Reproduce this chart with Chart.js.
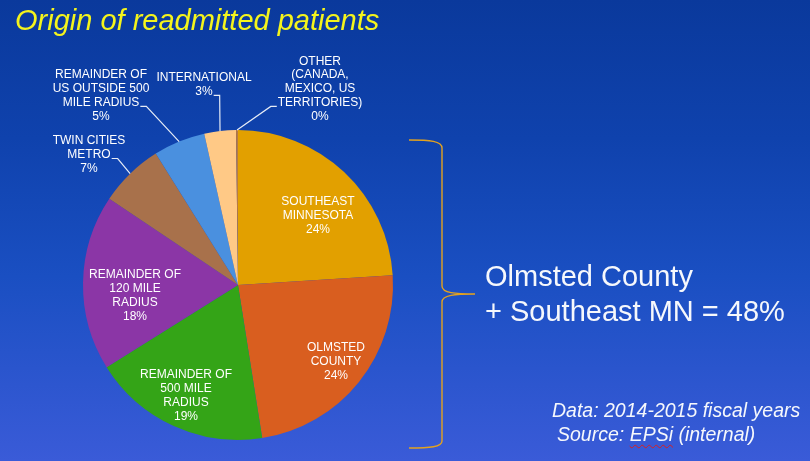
<!DOCTYPE html>
<html>
<head>
<meta charset="utf-8">
<script src="https://cdn.jsdelivr.net/npm/chart.js@4/dist/chart.umd.min.js"></script>
<style>
  html, body { margin: 0; padding: 0; }
  body {
    width: 810px; height: 461px; overflow: hidden; position: relative;
    background: linear-gradient(to bottom, #0a399c 0%, #0f42ad 30%, #1a4fc2 60%, #3a5bd8 100%);
    font-family: "Liberation Sans", Arial, sans-serif;
  }
  #wrap { position: absolute; left: 0; top: 0; width: 810px; height: 461px; }
  .txt { position: absolute; white-space: pre; }
  #title { left: 15px; top: 6px; font-size: 29px; line-height: 29px; font-style: italic; color: #f4f41c; }
  #summary { left: 485px; top: 259px; font-size: 29px; line-height: 35px; color: #f6f8fc; }
  .src { font-size: 19.5px; line-height: 24px; font-style: italic; color: #f6f8fc; }
  .squiggle { text-decoration: underline wavy #d82020; text-decoration-thickness: 1px; text-underline-offset: 3px; }
</style>
</head>
<body>
<div id="wrap"><canvas id="originChart" width="810" height="461"></canvas></div>
<div class="txt" id="title">Origin of readmitted patients</div>
<div class="txt" id="summary">Olmsted County
+ Southeast MN = 48%</div>
<div class="txt src" style="left:552px; top:398px;">Data: 2014-2015 fiscal years</div>
<div class="txt src" style="left:557px; top:422px;">Source: <span class="squiggle">EPSi</span> (internal)</div>
<script>
// Origin of readmitted patients, share of total (%)
const categories = [
  ["SOUTHEAST", "MINNESOTA"],
  ["OLMSTED", "COUNTY"],
  ["REMAINDER OF", "500 MILE", "RADIUS"],
  ["REMAINDER OF", "120 MILE", "RADIUS"],
  ["TWIN CITIES", "METRO"],
  ["REMAINDER OF", "US OUTSIDE 500", "MILE RADIUS"],
  ["INTERNATIONAL"],
  ["OTHER", "(CANADA,", "MEXICO, US", "TERRITORIES)"]
];
const shares = [24.0, 23.5, 18.6, 18.3, 6.7, 5.4, 3.3, 0.2];
const sliceColors = ["#e2a000", "#d95e1f", "#34a417", "#8b36a6", "#a8714b", "#4a90df", "#ffc986", "#b87a44"];

// label placement, offset of text centre from pie centre (px at r = 155)
const labelPlacement = [
  { dx: 80, dy: -69 },
  { dx: 98, dy: 77 },
  { dx: -52, dy: 111 },
  { dx: -103, dy: 11 },
  { dx: -149, dy: -130, leader: { line: 1, side: "right" } },
  { dx: -137, dy: -189, leader: { line: 2, side: "right" } },
  { dx: -34, dy: -200, leader: { line: 1, side: "right" } },
  { dx: 82, dy: -196, leader: { line: 3, side: "left" } }
];

const pieLabels = {
  id: "pieLabels",
  afterDatasetsDraw(chart) {
    const ctx = chart.ctx;
    const meta = chart.getDatasetMeta(0);
    ctx.save();
    ctx.font = "12px 'Liberation Sans', Arial, sans-serif";
    ctx.textAlign = "center";
    ctx.textBaseline = "middle";
    meta.data.forEach((arc, i) => {
      const p = arc.getProps(["x", "y", "startAngle", "endAngle", "outerRadius"], true);
      const s = p.outerRadius / 155;
      const lines = categories[i].concat([Math.round(shares[i]) + "%"]);
      const place = labelPlacement[i];
      const cx = p.x + place.dx * s;
      const cy = p.y + place.dy * s;
      const lh = 13.9;
      const top = cy - (lines.length - 1) * lh / 2;
      ctx.fillStyle = "#ffffff";
      lines.forEach((t, k) => ctx.fillText(t, cx, top + k * lh));

      if (place.leader) {
        const mid = (p.startAngle + p.endAngle) / 2;
        const ex = p.x + Math.cos(mid) * p.outerRadius;
        const ey = p.y + Math.sin(mid) * p.outerRadius;
        const ln = place.leader.line;
        const w = ctx.measureText(lines[ln]).width;
        const ly = top + ln * lh + 3.5;
        const sx = place.leader.side === "right" ? cx + w / 2 + 1 : cx - w / 2 - 1;
        const kx = place.leader.side === "right" ? sx + 6 : sx - 6;
        ctx.strokeStyle = "#e6ecf6";
        ctx.lineWidth = 1.2;
        ctx.beginPath();
        ctx.moveTo(sx, ly);
        ctx.lineTo(kx, ly);
        ctx.lineTo(ex, ey);
        ctx.stroke();
      }
    });

    // curly brace grouping the two largest slices
    ctx.strokeStyle = "#e3a21f";
    ctx.lineWidth = 1.4;
    ctx.beginPath();
    ctx.moveTo(409, 140);
    ctx.bezierCurveTo(430, 140, 442, 141, 442, 148);
    ctx.lineTo(442, 286);
    ctx.bezierCurveTo(442, 293, 455, 294, 475, 294);
    ctx.bezierCurveTo(455, 294, 442, 295, 442, 302);
    ctx.lineTo(442, 441);
    ctx.bezierCurveTo(442, 447, 430, 448, 409, 448);
    ctx.stroke();
    ctx.restore();
  }
};

new Chart(document.getElementById("originChart").getContext("2d"), {
  type: "pie",
  data: {
    labels: categories.map(c => c.join(" ")),
    datasets: [{
      data: shares,
      backgroundColor: sliceColors,
      borderWidth: 0
    }]
  },
  options: {
    responsive: false,
    animation: false,
    layout: {
      padding: { left: 83, right: 417, top: 130, bottom: 21 }
    },
    plugins: {
      legend: { display: false },
      tooltip: { enabled: false }
    }
  },
  plugins: [pieLabels]
});
</script>
</body>
</html>
